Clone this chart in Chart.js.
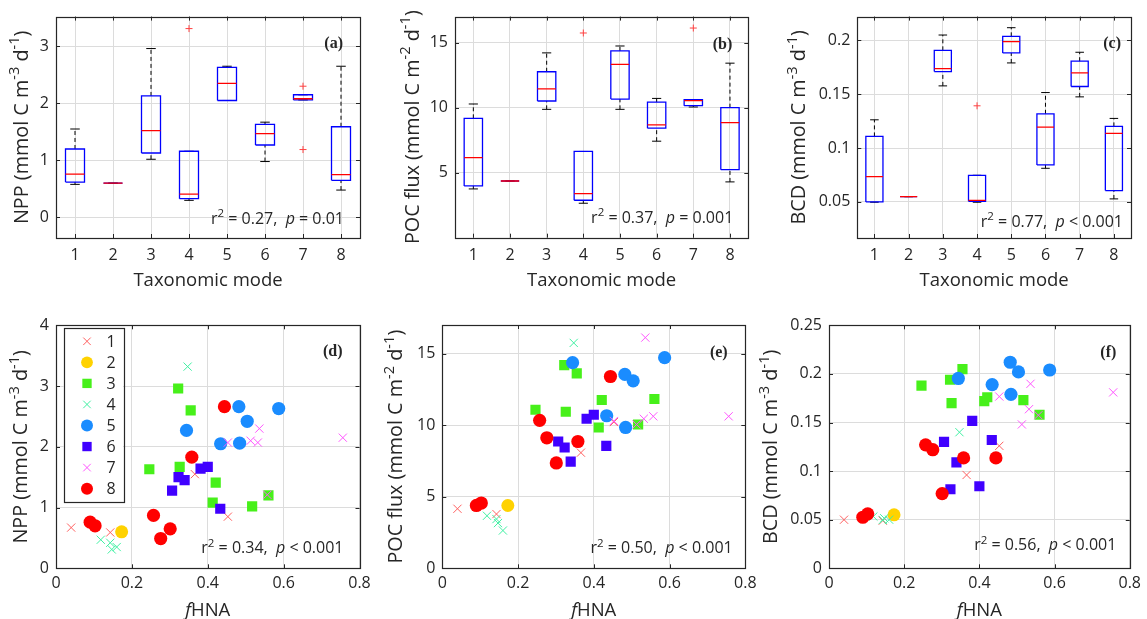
<!DOCTYPE html>
<html>
<head>
<meta charset="utf-8">
<script src="https://cdn.jsdelivr.net/npm/chart.js@4.4.1/dist/chart.umd.min.js"></script>
<style>
  html, body { margin: 0; padding: 0; background: #fff; }
  #wrap { position: relative; width: 1147px; height: 619px; overflow: hidden; }
  #wrap canvas { position: absolute; left: 0; top: 0; }
</style>
</head>
<body>
<div id="wrap">
  <canvas id="pa" width="1147" height="619"></canvas>
  <canvas id="pb" width="1147" height="619"></canvas>
  <canvas id="pc" width="1147" height="619"></canvas>
  <canvas id="pd" width="1147" height="619"></canvas>
  <canvas id="pe" width="1147" height="619"></canvas>
  <canvas id="pf" width="1147" height="619"></canvas>
</div>
<script>
const W = 1147, H = 619;
const FONT = '"Open Sans", "DejaVu Sans", sans-serif';
const INK = '#262626';

// taxonomic modes (x categories of the box plots, legend entries)
const modes = [1, 2, 3, 4, 5, 6, 7, 8];

// box plot statistics (a)-(c): whisker low, q1, median, q3, whisker high
const nppLo  = [0.58, 0.60, 1.02, 0.30, 2.05, 0.98, 2.06, 0.48];
const nppQ1  = [0.62, 0.60, 1.13, 0.33, 2.05, 1.27, 2.06, 0.65];
const nppMed = [0.76, 0.60, 1.52, 0.41, 2.35, 1.47, 2.08, 0.75];
const nppQ3  = [1.20, 0.60, 2.13, 1.16, 2.63, 1.63, 2.15, 1.59];
const nppHi  = [1.55, 0.60, 2.96, 1.16, 2.65, 1.67, 2.15, 2.65];
const nppOut = [[4, 3.31], [7, 2.30], [7, 1.19]];

const pocLo  = [3.75, 4.36, 9.87, 2.65, 9.87, 7.42, 10.05, 4.29];
const pocQ1  = [3.98, 4.36, 10.51, 2.88, 10.66, 8.42, 10.15, 5.23];
const pocMed = [6.15, 4.36, 11.45, 3.39, 13.32, 8.67, 10.54, 8.85];
const pocQ3  = [9.18, 4.36, 12.76, 6.63, 14.36, 10.43, 10.61, 10.0];
const pocHi  = [10.28, 4.36, 14.21, 6.63, 14.74, 10.71, 10.62, 13.42];
const pocOut = [[4, 15.74], [7, 16.12]];

const bcdLo  = [0.0497, 0.0549, 0.1577, 0.0497, 0.179, 0.0812, 0.1475, 0.0528];
const bcdQ1  = [0.0500, 0.0549, 0.1710, 0.0506, 0.1883, 0.0843, 0.1571, 0.0605];
const bcdMed = [0.0735, 0.0549, 0.1738, 0.0515, 0.1988, 0.1194, 0.1698, 0.1136];
const bcdQ3  = [0.1108, 0.0549, 0.1907, 0.0747, 0.2037, 0.1318, 0.1806, 0.1201];
const bcdHi  = [0.1262, 0.0549, 0.2049, 0.0747, 0.2117, 0.1515, 0.1889, 0.1275];
const bcdOut = [[4, 0.1392]];

// samples for panels (d)-(f), one sub-array per taxonomic mode
const fhnaByMode = [
  [0.040, 0.143, 0.366, 0.453],
  [0.173],
  [0.246, 0.322, 0.326, 0.355, 0.413, 0.421, 0.517, 0.560],
  [0.347, 0.118, 0.143, 0.147, 0.160],
  [0.344, 0.434, 0.482, 0.484, 0.504, 0.587],
  [0.306, 0.323, 0.339, 0.381, 0.400, 0.433],
  [0.453, 0.513, 0.532, 0.536, 0.557, 0.756],
  [0.090, 0.103, 0.257, 0.276, 0.301, 0.358, 0.444]
];
const nppByMode = [
  [0.67, 0.59, 1.55, 0.85],
  [0.60],
  [1.63, 2.96, 1.67, 2.60, 1.08, 1.41, 1.02, 1.20],
  [3.32, 0.47, 0.42, 0.31, 0.35],
  [2.27, 2.05, 2.66, 2.06, 2.42, 2.63],
  [1.28, 1.50, 1.45, 1.64, 1.67, 0.98],
  [2.07, 2.10, 2.07, 2.30, 1.21, 2.15],
  [0.76, 0.70, 0.87, 0.49, 0.65, 1.83, 2.66]
];
const pocByMode = [
  [4.16, 3.79, 8.08, 10.22],
  [4.39],
  [11.08, 14.2, 10.94, 13.62, 9.84, 11.76, 10.05, 11.83],
  [15.75, 3.67, 3.44, 3.16, 2.64],
  [14.37, 10.66, 13.55, 9.84, 13.1, 14.72],
  [8.86, 8.44, 7.45, 10.45, 10.73, 8.55],
  [10.29, 10.05, 10.45, 16.12, 10.62, 10.62],
  [4.39, 4.56, 10.34, 9.12, 7.36, 8.86, 13.4]
];
const bcdByMode = [
  [0.050, 0.049, 0.096, 0.126],
  [0.055],
  [0.188, 0.194, 0.170, 0.205, 0.172, 0.176, 0.173, 0.158],
  [0.140, 0.0533, 0.0497, 0.0515, 0.050],
  [0.1953, 0.189, 0.212, 0.179, 0.202, 0.204],
  [0.130, 0.0813, 0.109, 0.1517, 0.0844, 0.132],
  [0.1767, 0.148, 0.1637, 0.1898, 0.1575, 0.181],
  [0.0525, 0.056, 0.127, 0.122, 0.0769, 0.1136, 0.1136]
];

// tick labels
const fhnaTicks = [0, 0.2, 0.4, 0.6, 0.8];
const nppBoxTicks = [0, 1, 2, 3];
const pocBoxTicks = [5, 10, 15];
const bcdBoxTicks = [0.05, 0.1, 0.15, 0.2];
const nppTicks = [0, 1, 2, 3, 4];
const pocTicks = [0, 5, 10, 15];
const bcdTicks = [0, 0.05, 0.1, 0.15, 0.2, 0.25];

// marker look per mode
const markers = [
  { shape: 'crossRot', color: '#ff6060', r: 5.8, fill: false },
  { shape: 'circle',   color: '#ffd200', r: 6.5, fill: true },
  { shape: 'rect',     color: '#47f01a', r: 7.2, fill: true },
  { shape: 'crossRot', color: '#3ff0a2', r: 5.8, fill: false },
  { shape: 'circle',   color: '#1a8cff', r: 6.6, fill: true },
  { shape: 'rect',     color: '#4000ff', r: 7.2, fill: true },
  { shape: 'crossRot', color: '#ff55ff', r: 5.8, fill: false },
  { shape: 'circle',   color: '#ff0000', r: 6.6, fill: true }
];

const fmt = v => String(Math.round(v * 1000) / 1000);

// box plots drawn as line segments on a linear x scale
function boxSets(lo, q1, med, q3, hi, out) {
  const box = [], mid = [], up = [], dn = [], caps = [];
  modes.forEach((m, i) => {
    const a = m - 0.25, b = m + 0.25, c1 = m - 0.125, c2 = m + 0.125;
    box.push({x: a, y: q1[i]}, {x: b, y: q1[i]}, {x: b, y: q3[i]}, {x: a, y: q3[i]}, {x: a, y: q1[i]}, {x: m, y: null});
    mid.push({x: a, y: med[i]}, {x: b, y: med[i]}, {x: m, y: null});
    up.push({x: m, y: q3[i]}, {x: m, y: hi[i]}, {x: m, y: null});
    dn.push({x: m, y: lo[i]}, {x: m, y: q1[i]}, {x: m, y: null});
    caps.push({x: c1, y: hi[i]}, {x: c2, y: hi[i]}, {x: m, y: null});
    caps.push({x: c1, y: lo[i]}, {x: c2, y: lo[i]}, {x: m, y: null});
  });
  const seg = (data, color, width, dash, order) => ({
    data, showLine: true, spanGaps: false, pointRadius: 0, borderColor: color,
    borderWidth: width, borderDash: dash, tension: 0, order
  });
  return [
    seg(mid, '#ff0000', 1.3, [], 0),
    seg(box, '#0000ff', 1.3, [], 1),
    seg(caps, '#000000', 1, [], 2),
    seg(up, '#000000', 1, [4, 3], 3),
    seg(dn, '#000000', 1, [4, 3], 3),
    {
      data: out.map(o => ({x: o[0], y: o[1]})),
      pointStyle: 'cross', pointRadius: 3.5, borderWidth: 1,
      borderColor: '#ff4040', backgroundColor: 'transparent', order: 0
    }
  ];
}

function scatterSets(yByMode) {
  return modes.map((m, g) => {
    const mk = markers[g];
    return {
      label: String(m),
      data: fhnaByMode[g].map((x, k) => ({x, y: yByMode[g][k]})),
      pointStyle: mk.shape,
      pointRadius: mk.r,
      pointHoverRadius: mk.r,
      borderWidth: mk.fill ? 0 : 1,
      borderColor: mk.color,
      backgroundColor: mk.fill ? mk.color : 'transparent',
      order: 8 - m
    };
  });
}

// rich text: parts are {t, i (italic), s (superscript)}
function drawRich(ctx, parts, x, y, size, align, supScale) {
  const k = supScale || 0.68;
  let total = 0;
  const fonts = parts.map(p => {
    const sz = p.s ? size * k : size;
    const f = (p.i ? 'italic ' : '') + sz + 'px ' + FONT;
    ctx.font = f;
    const w = ctx.measureText(p.t).width;
    total += w;
    return {f, w};
  });
  let cx = align === 'right' ? x - total : align === 'center' ? x - total / 2 : x;
  ctx.textAlign = 'left';
  ctx.textBaseline = 'alphabetic';
  parts.forEach((p, i) => {
    ctx.font = fonts[i].f;
    ctx.fillText(p.t, cx, p.s ? y - size * 0.42 : y);
    cx += fonts[i].w;
  });
}

function unitParts(name, area) {
  return [{t: name + ' (mmol C m'}, {t: '-' + area, s: true}, {t: ' d'}, {t: '-1', s: true}, {t: ')'}];
}
function statParts(r2, p) {
  return [{t: 'r'}, {t: '2', s: true}, {t: ' = ' + r2 + ',  '}, {t: 'p', i: true}, {t: ' ' + p}];
}

function decor(p) {
  return {
    id: 'decor',
    afterDraw(chart) {
      const ctx = chart.ctx, ca = chart.chartArea;
      const sx = chart.scales.x, sy = chart.scales.y;
      ctx.save();
      // inward ticks
      ctx.strokeStyle = INK;
      ctx.lineWidth = 1;
      ctx.beginPath();
      sx.ticks.forEach(t => {
        const px = Math.round(sx.getPixelForValue(t.value)) + 0.5;
        ctx.moveTo(px, ca.bottom); ctx.lineTo(px, ca.bottom - 4);
        ctx.moveTo(px, ca.top); ctx.lineTo(px, ca.top + 4);
      });
      sy.ticks.forEach(t => {
        const py = Math.round(sy.getPixelForValue(t.value)) + 0.5;
        ctx.moveTo(ca.left, py); ctx.lineTo(ca.left + 4, py);
        ctx.moveTo(ca.right, py); ctx.lineTo(ca.right - 4, py);
      });
      ctx.stroke();
      // frame
      ctx.lineWidth = 1.2;
      ctx.strokeRect(Math.round(ca.left) + 0.5, Math.round(ca.top) + 0.5,
        Math.round(ca.right - ca.left), Math.round(ca.bottom - ca.top));
      ctx.fillStyle = INK;
      // axis titles
      drawRich(ctx, p.xTitle, (ca.left + ca.right) / 2, ca.bottom + 48, 18.5, 'center');
      ctx.save();
      ctx.translate(ca.left + p.yTitleDx, (ca.top + ca.bottom) / 2);
      ctx.rotate(-Math.PI / 2);
      drawRich(ctx, p.yTitle, 0, 7, 19.8, 'center', 0.74);
      ctx.restore();
      // statistics and panel tag
      drawRich(ctx, p.stat, ca.right + p.statDx, ca.bottom + p.statDy, 16, 'right', 0.72);
      ctx.font = 'bold 16px "Liberation Serif", "DejaVu Serif", serif';
      ctx.textAlign = 'right';
      ctx.textBaseline = 'middle';
      ctx.fillText(p.tag, ca.right + p.tagDx, ca.top + p.tagDy);
      // legend box (panel d)
      if (p.legend) {
        const lx = ca.left + 7.5, ly = ca.top + 3, lw = 59.5, lh = 173.5;
        ctx.fillStyle = '#fff';
        ctx.fillRect(lx, ly, lw, lh);
        ctx.strokeStyle = INK;
        ctx.lineWidth = 1.2;
        ctx.strokeRect(Math.round(lx) + 0.5, Math.round(ly) + 0.5, Math.round(lw), Math.round(lh));
        chart.data.datasets.forEach((ds, g) => {
          const cy = ly + 13 + g * 21.05;
          const mk = markers[g];
          ctx.fillStyle = mk.color;
          ctx.strokeStyle = mk.color;
          ctx.lineWidth = 1;
          Chart.helpers.drawPoint(ctx, {
            pointStyle: mk.shape, radius: mk.fill ? mk.r - 0.6 : mk.r - 0.5,
            rotation: 0, borderWidth: mk.fill ? 0 : 1
          }, lx + 23.5, cy);
          ctx.fillStyle = INK;
          ctx.font = '16px ' + FONT;
          ctx.textAlign = 'left';
          ctx.textBaseline = 'middle';
          ctx.fillText(ds.label, lx + 43, cy + 1);
        });
      }
      ctx.restore();
    }
  };
}

function build(p) {
  const [L, T, R, B] = p.rect;
  const tickFont = {family: FONT, size: 16};
  const grid = {color: '#dcdcdc', lineWidth: 1, drawTicks: false};
  return new Chart(document.getElementById(p.id), {
    type: 'scatter',
    data: {datasets: p.datasets},
    options: {
      responsive: false,
      animation: false,
      events: [],
      layout: {padding: {left: 0, top: T, right: W - R, bottom: 0}},
      plugins: {legend: {display: false}, tooltip: {enabled: false}},
      scales: {
        x: {
          type: 'linear', min: p.xMin, max: p.xMax, grid, border: {display: false},
          afterBuildTicks: s => { s.ticks = p.xTicks.map(v => ({value: v})); },
          afterFit: s => { s.height = H - B; },
          ticks: {font: tickFont, color: INK, padding: p.xPad, autoSkip: false, maxRotation: 0, callback: fmt}
        },
        y: {
          type: 'linear', min: p.yMin, max: p.yMax, grid, border: {display: false},
          afterBuildTicks: s => { s.ticks = p.yTicks.map(v => ({value: v})); },
          afterFit: s => { s.width = L; },
          ticks: {font: tickFont, color: INK, padding: 7, autoSkip: false, callback: fmt}
        }
      }
    },
    plugins: [decor(p)]
  });
}

const taxTitle = [{t: 'Taxonomic mode'}];
const fTitle = [{t: 'f', i: true}, {t: 'HNA'}];

const panels = [
  { id: 'pa', rect: [56, 15.7, 360, 238], xMin: 0.5, xMax: 8.5, xTicks: modes, yMin: -0.36, yMax: 3.52, yTicks: nppBoxTicks,
    datasets: boxSets(nppLo, nppQ1, nppMed, nppQ3, nppHi, nppOut), xPad: 8,
    xTitle: taxTitle, yTitle: unitParts('NPP', 3), yTitleDx: -35.3,
    stat: statParts('0.27', '= 0.01'), statDx: -16, statDy: -14, tag: '(a)', tagDx: -17, tagDy: 27.6 },
  { id: 'pb', rect: [455, 15.7, 748.3, 237.7], xMin: 0.5, xMax: 8.5, xTicks: modes, yMin: 0, yMax: 17, yTicks: pocBoxTicks,
    datasets: boxSets(pocLo, pocQ1, pocMed, pocQ3, pocHi, pocOut), xPad: 8,
    xTitle: taxTitle, yTitle: unitParts('POC flux', 2), yTitleDx: -43.3,
    stat: statParts('0.37', '= 0.001'), statDx: -15, statDy: -15, tag: '(b)', tagDx: -16, tagDy: 28.6 },
  { id: 'pc', rect: [857.3, 15.7, 1131, 238], xMin: 0.5, xMax: 8.5, xTicks: modes, yMin: 0.0165, yMax: 0.222, yTicks: bcdBoxTicks,
    datasets: boxSets(bcdLo, bcdQ1, bcdMed, bcdQ3, bcdHi, bcdOut), xPad: 8,
    xTitle: taxTitle, yTitle: unitParts('BCD', 3), yTitleDx: -59.3,
    stat: statParts('0.77', '< 0.001'), statDx: -8, statDy: -11, tag: '(c)', tagDx: -10, tagDy: 27.6 },
  { id: 'pd', rect: [56, 325.3, 359.5, 568.3], xMin: 0, xMax: 0.8, xTicks: fhnaTicks, yMin: 0, yMax: 4, yTicks: nppTicks,
    datasets: scatterSets(nppByMode), xPad: 6, legend: true,
    xTitle: fTitle, yTitle: unitParts('NPP', 3), yTitleDx: -36,
    stat: statParts('0.34', '< 0.001'), statDx: -16, statDy: -15, tag: '(d)', tagDx: -17, tagDy: 26.4 },
  { id: 'pe', rect: [442.3, 325, 745.3, 568.3], xMin: 0, xMax: 0.8, xTicks: fhnaTicks, yMin: 0, yMax: 17, yTicks: pocTicks,
    datasets: scatterSets(pocByMode), xPad: 6,
    xTitle: fTitle, yTitle: unitParts('POC flux', 2), yTitleDx: -47.3,
    stat: statParts('0.50', '< 0.001'), statDx: -12.6, statDy: -15, tag: '(e)', tagDx: -17.6, tagDy: 28 },
  { id: 'pf', rect: [829, 325.3, 1131.7, 568.3], xMin: 0, xMax: 0.8, xTicks: fhnaTicks, yMin: 0, yMax: 0.25, yTicks: bcdTicks,
    datasets: scatterSets(bcdByMode), xPad: 6,
    xTitle: fTitle, yTitle: unitParts('BCD', 3), yTitleDx: -59,
    stat: statParts('0.56', '< 0.001'), statDx: -13.4, statDy: -18, tag: '(f)', tagDx: -13.4, tagDy: 27.4 }
];

panels.forEach(build);
</script>
</body>
</html>
